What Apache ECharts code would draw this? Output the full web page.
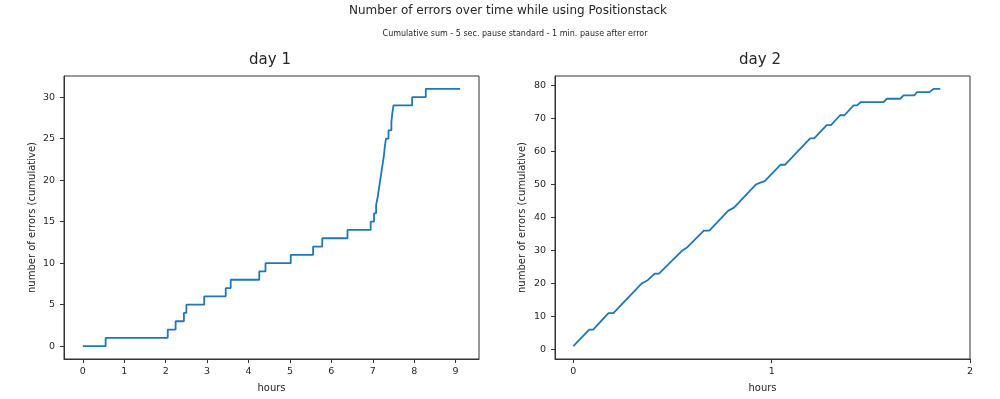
<!DOCTYPE html>
<html>
<head>
<meta charset="utf-8">
<title>Number of errors over time while using Positionstack</title>
<script src="https://cdn.jsdelivr.net/npm/echarts@6/dist/echarts.min.js"></script>
<style>
  html, body { margin: 0; padding: 0; background: #fff; }
  #chart { width: 1000px; height: 399px; }
</style>
</head>
<body>
<div id="chart"></div>
<script>
// day 1: time (hours) at which the cumulative error count changed
const day1Hours = [0, 0.55, 2.05, 2.24, 2.44, 2.50, 2.93, 3.45, 3.57, 4.26, 4.41, 5.02, 5.56, 5.78, 6.39,
  6.95, 7.03, 7.08, 7.12, 7.15, 7.18, 7.21, 7.24, 7.27, 7.29, 7.32, 7.38, 7.45, 7.47, 7.50, 7.95, 8.28, 9.11];
const day1Errors = [0, 1, 2, 3, 4, 5, 6, 7, 8, 9, 10, 11, 12, 13, 14,
  15, 16, 17, 18, 19, 20, 21, 22, 23, 24, 25, 26, 27, 28, 29, 30, 31, 31];

// day 2: vertices of the cumulative line
const day2Hours = [0, 0.08, 0.10, 0.177, 0.202, 0.345, 0.375, 0.41, 0.432, 0.55, 0.575, 0.658, 0.686,
  0.78, 0.81, 0.92, 0.94, 0.965, 1.045, 1.068, 1.194, 1.214, 1.278, 1.299, 1.345, 1.367, 1.413, 1.43,
  1.45, 1.564, 1.581, 1.648, 1.665, 1.719, 1.733, 1.796, 1.816, 1.85];
const day2Errors = [1, 6, 6, 11, 11, 20, 21, 23, 23, 30, 31, 36, 36,
  42, 43, 50, 50.5, 51, 56, 56, 64, 64, 68, 68, 71, 71, 74, 74,
  75, 75, 76, 76, 77, 77, 78, 78, 79, 79];

const day1XTicks = [0, 1, 2, 3, 4, 5, 6, 7, 8, 9];
const day1YTicks = [0, 5, 10, 15, 20, 25, 30];
const day2XTicks = [0, 1, 2];
const day2YTicks = [0, 10, 20, 30, 40, 50, 60, 70, 80];

const mainTitle = 'Number of errors over time while using Positionstack';
const subTitle = 'Cumulative sum - 5 sec. pause standard - 1 min. pause after error';
const panelTitles = ['day 1', 'day 2'];

const FONT = 'DejaVu Sans';
const INK = '#262626';
const SPINE = '#333';
const LINE = '#1f77b4';

const chart = echarts.init(document.getElementById('chart'));

const zip = (xs, ys) => xs.map((x, i) => [x, ys[i]]);

const xAxisFor = (grid, min, max, ticks) => ({
  type: 'value', gridIndex: grid, min: min, max: max,
  name: 'hours', nameLocation: 'middle', nameGap: 24,
  nameTextStyle: { fontFamily: FONT, fontSize: 10, color: INK },
  splitLine: { show: false },
  axisLine: { show: true, onZero: false, lineStyle: { color: SPINE, width: 1 } },
  axisTick: { show: true, inside: false, length: 4, customValues: ticks, lineStyle: { color: SPINE } },
  axisLabel: { customValues: ticks, margin: 8, fontFamily: FONT, fontSize: 9.5, color: INK }
});

const yAxisFor = (grid, min, max, ticks, gap) => ({
  type: 'value', gridIndex: grid, min: min, max: max,
  name: 'number of errors (cumulative)', nameLocation: 'middle', nameGap: gap,
  nameTextStyle: { fontFamily: FONT, fontSize: 10, color: INK },
  splitLine: { show: false },
  axisLine: { show: true, onZero: false, lineStyle: { color: SPINE, width: 1 } },
  axisTick: { show: true, inside: false, length: 4, customValues: ticks, lineStyle: { color: SPINE } },
  axisLabel: { customValues: ticks, margin: 9, fontFamily: FONT, fontSize: 9.5, color: INK }
});

const text = (x, y, str, size) => ({
  type: 'text', x: x, y: y,
  style: { text: str, font: size + 'px "' + FONT + '"', fill: INK, align: 'center', verticalAlign: 'middle' }
});

chart.setOption({
  animation: false,
  backgroundColor: '#ffffff',
  graphic: [
    text(508, 11, mainTitle, 12),
    text(515, 34, subTitle, 8),
    text(270, 60, panelTitles[0], 15),
    text(760, 60, panelTitles[1], 15)
  ],
  grid: [
    { left: 64, top: 76, width: 415, height: 283, show: true, borderColor: SPINE, borderWidth: 1, containLabel: false },
    { left: 555, top: 76, width: 415, height: 283, show: true, borderColor: SPINE, borderWidth: 1, containLabel: false }
  ],
  xAxis: [
    xAxisFor(0, -0.455, 9.565, day1XTicks),
    xAxisFor(1, -0.0925, 2.0, day2XTicks)
  ],
  yAxis: [
    yAxisFor(0, -1.55, 32.55, day1YTicks, 27),
    yAxisFor(1, -2.9, 82.9, day2YTicks, 28)
  ],
  series: [
    {
      type: 'line', xAxisIndex: 0, yAxisIndex: 0, step: 'end', showSymbol: false,
      data: zip(day1Hours, day1Errors),
      lineStyle: { color: LINE, width: 1.8 }
    },
    {
      type: 'line', xAxisIndex: 1, yAxisIndex: 1, showSymbol: false,
      data: zip(day2Hours, day2Errors),
      lineStyle: { color: LINE, width: 1.8 }
    }
  ]
});
</script>
</body>
</html>
